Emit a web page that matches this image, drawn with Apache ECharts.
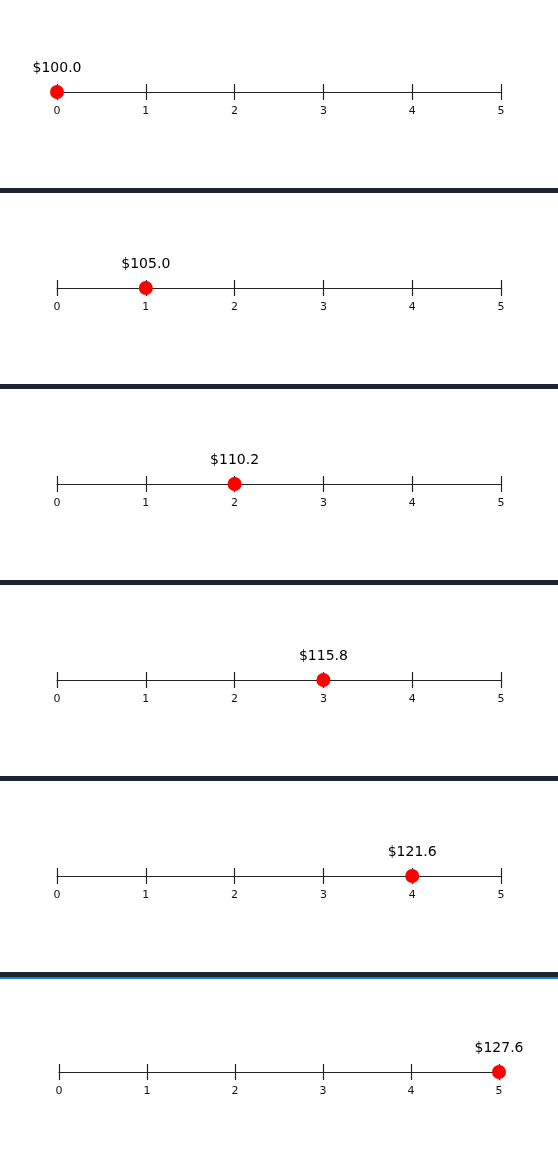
<!DOCTYPE html>
<html>
<head>
<meta charset="utf-8">
<script src="https://cdn.jsdelivr.net/npm/echarts@6/dist/echarts.min.js"></script>
<style>
	html, body { margin: 0; padding: 0; background: #fff; }
	#chart { width: 558px; height: 1159px; }
</style>
</head>
<body>
<div id="chart"></div>
<script>
	// values shown above the point in each panel
	var prices = [100.0, 105.0, 110.2, 115.8, 121.6, 127.6];
	var steps = [0, 1, 2, 3, 4, 5];
	var tickMin = 0, tickMax = 5;

	var panelH = 196;
	var axisTop = 92;

	var chart = echarts.init(document.getElementById('chart'));
	var grids = [], xAxes = [], yAxes = [], series = [], graphics = [];

	steps.forEach(function(step, i) {
		var y = axisTop + i * panelH;
		var last = i === steps.length - 1;
		grids.push({
			left: last ? 59 : 57,
			right: last ? 59 : 57,
			top: y - 10,
			height: 10
		});
		// lower half of the ticks, with labels
		xAxes.push({
			gridIndex: i, type: 'value', position: 'bottom',
			min: tickMin, max: tickMax, interval: 1,
			axisLine: { lineStyle: { color: '#222', width: 1 } },
			axisTick: { length: 8, lineStyle: { color: '#222', width: 1.2 } },
			axisLabel: { fontSize: 11, color: '#111', margin: 14, fontFamily: 'DejaVu Sans' },
			splitLine: { show: false }
		});
		// upper half of the ticks
		xAxes.push({
			gridIndex: i, type: 'value', position: 'bottom',
			min: tickMin, max: tickMax, interval: 1,
			axisLine: { show: false },
			axisTick: { inside: true, length: 8, lineStyle: { color: '#222', width: 1.2 } },
			axisLabel: { show: false },
			splitLine: { show: false }
		});
		yAxes.push({ gridIndex: i, type: 'value', min: 0, max: 1, show: false });
		series.push({
			type: 'scatter',
			xAxisIndex: i * 2, yAxisIndex: i,
			symbolSize: 14,
			itemStyle: { color: '#ff0000', opacity: 1 },
			z: 5,
			data: [[step, 0]],
			label: {
				show: true, position: 'top', distance: 10,
				fontSize: 14, color: '#000', fontFamily: 'DejaVu Sans',
				formatter: '$' + prices[i].toFixed(1)
			}
		});
		if (i > 0) {
			graphics.push({
				type: 'rect',
				shape: { x: 0, y: 188 + (i - 1) * panelH, width: 558, height: 5 },
				style: { fill: '#1b2530' }
			});
		}
	});
	graphics.push({
		type: 'rect',
		shape: { x: 0, y: 977, width: 558, height: 2 },
		style: { fill: '#1b80c2' }
	});

	chart.setOption({
		animation: false,
		grid: grids,
		xAxis: xAxes,
		yAxis: yAxes,
		series: series,
		graphic: graphics
	});
</script>
</body>
</html>
